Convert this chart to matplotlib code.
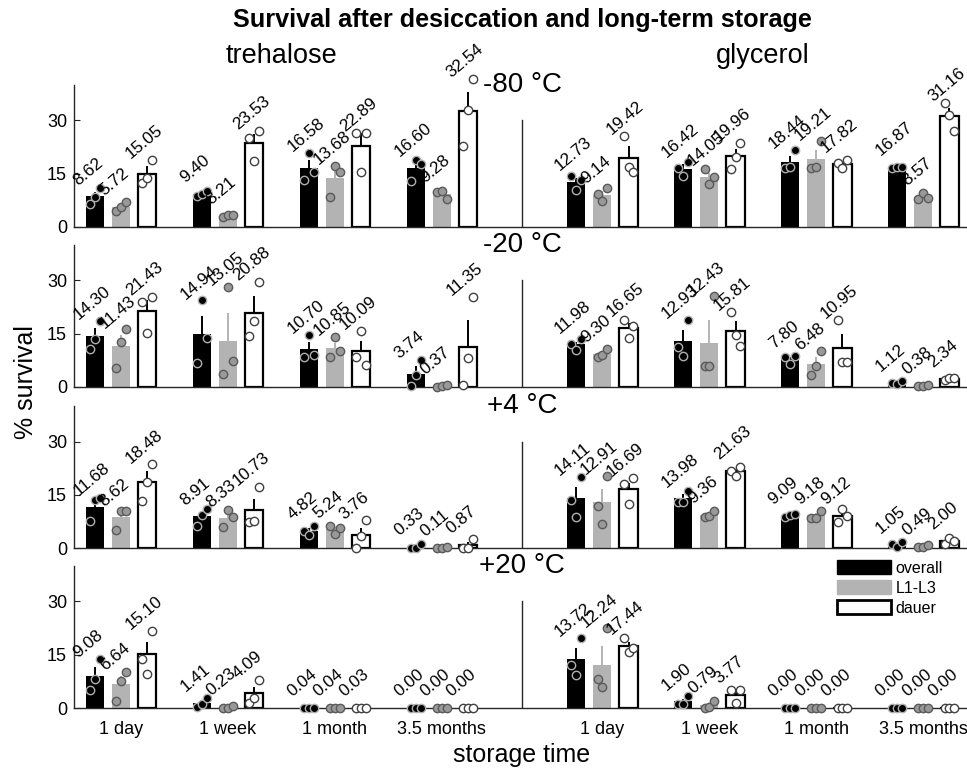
import numpy as np
import matplotlib
matplotlib.use('Agg')
import matplotlib.pyplot as plt
from matplotlib.patches import Patch

plt.rcParams['font.family'] = ['Liberation Sans', 'DejaVu Sans']

# categories
times = ['1 day', '1 week', '1 month', '3.5 months']
stages = ['overall', 'L1-L3', 'dauer']
temps = ['-80 °C', '-20 °C', '+4 °C', '+20 °C']

# rows: trehalose 1d,1w,1m,3.5m then glycerol 1d,1w,1m,3.5m ; cols: overall, L1-L3, dauer
means_m80 = [[8.62, 5.72, 15.05], [9.40, 3.21, 23.53], [16.58, 13.68, 22.89], [16.60, 9.28, 32.54],
             [12.73, 9.14, 19.42], [16.42, 14.05, 19.96], [18.44, 19.21, 17.82], [16.87, 8.57, 31.16]]
err_m80 = [[1.3, 0.7, 2.0], [0.4, 0.3, 2.6], [2.2, 2.7, 3.6], [1.9, 0.7, 5.4],
           [1.2, 1.1, 3.3], [1.2, 1.2, 2.1], [1.6, 2.5, 0.6], [0.1, 0.5, 2.4]]
pts_m80 = [[[6.5, 8.4, 11.0], [4.6, 5.6, 7.0], [12.5, 13.7, 19.0]],
           [[8.7, 9.3, 10.2], [2.7, 3.4, 3.5], [25.0, 18.5, 27.1]],
           [[13.3, 20.8, 15.6], [8.4, 17.2, 15.4], [26.5, 15.6, 26.6]],
           [[13.0, 19.0, 17.8], [9.8, 10.2, 7.9], [22.9, 33.0, 41.8]],
           [[14.5, 10.5, 13.2], [9.2, 7.2, 11.0], [25.6, 17.0, 15.6]],
           [[16.5, 14.4, 18.4], [16.2, 12.0, 14.0], [16.4, 19.8, 23.7]],
           [[16.7, 16.8, 21.8], [16.5, 17.0, 24.1], [17.9, 16.7, 18.9]],
           [[16.7, 16.9, 17.0], [8.0, 9.6, 8.1], [35.0, 31.6, 26.9]]]

means_m20 = [[14.30, 11.43, 21.43], [14.94, 13.05, 20.88], [10.70, 10.85, 10.09], [3.74, 0.37, 11.35],
             [11.98, 9.30, 16.65], [12.93, 12.43, 15.81], [7.80, 6.48, 10.95], [1.12, 0.38, 2.34]]
err_m20 = [[2.3, 3.2, 3.1], [5.0, 7.7, 4.6], [2.1, 1.6, 2.9], [2.2, 0.15, 7.4],
           [0.8, 0.7, 1.5], [3.1, 6.5, 2.8], [0.7, 1.9, 4.0], [0.25, 0.15, 0.2]]
pts_m20 = [[[10.6, 13.6, 18.7], [5.3, 12.8, 16.2], [23.8, 15.2, 25.3]],
           [[6.7, 24.4, 13.7], [3.7, 28.1, 7.35], [14.4, 18.7, 29.5]],
           [[8.5, 14.7, 8.9], [8.5, 14.0, 10.0], [8.3, 15.9, 6.1]],
           [[0.2, 3.3, 7.7], [0.1, 0.4, 0.6], [0.5, 8.2, 25.35]],
           [[12.0, 10.5, 13.4], [8.3, 8.9, 10.7], [19.0, 13.9, 17.05]],
           [[11.3, 8.7, 18.8], [6.0, 5.8, 25.5], [21.2, 14.6, 11.6]],
           [[8.4, 6.4, 8.6], [3.5, 5.9, 10.0], [18.9, 7.0, 6.95]],
           [[1.1, 0.7, 1.55], [0.3, 0.2, 0.65], [2.0, 2.4, 2.6]]]

means_p4 = [[11.68, 8.62, 18.48], [8.91, 8.33, 10.73], [4.82, 5.24, 3.76], [0.33, 0.11, 0.87],
            [14.11, 12.91, 16.69], [13.98, 9.36, 21.63], [9.09, 9.18, 9.12], [1.05, 0.49, 2.00]]
err_p4 = [[2.2, 1.7, 3.3], [1.4, 1.4, 3.1], [0.7, 0.7, 1.9], [0.33, 0.1, 0.87],
          [3.2, 3.7, 1.5], [1.1, 0.5, 0.7], [0.3, 0.7, 1.1], [0.4, 0.19, 0.5]]
pts_p4 = [[[7.5, 13.5, 14.05], [5.2, 10.3, 10.35], [13.3, 18.6, 23.55]],
          [[6.3, 9.4, 11.05], [5.8, 10.6, 8.6], [7.3, 7.6, 17.3]],
          [[4.7, 3.6, 6.15], [6.3, 3.9, 5.5], [0.0, 3.5, 7.8]],
          [[0.0, 0.0, 1.0], [0.0, 0.0, 0.33], [0.0, 0.0, 2.6]],
          [[13.6, 8.7, 20.0], [11.7, 6.7, 20.3], [18.0, 12.4, 19.7]],
          [[12.9, 12.9, 16.15], [8.8, 8.9, 10.4], [21.7, 20.4, 22.8]],
          [[8.6, 9.2, 9.5], [8.5, 8.5, 10.55], [7.2, 11.1, 9.05]],
          [[1.0, 0.4, 1.75], [0.3, 0.3, 0.87], [1.2, 2.9, 1.9]]]

means_p20 = [[9.08, 6.64, 15.10], [1.41, 0.23, 4.09], [0.04, 0.04, 0.03], [0.00, 0.00, 0.00],
             [13.72, 12.24, 17.44], [1.90, 0.79, 3.77], [0.00, 0.00, 0.00], [0.00, 0.00, 0.00]]
err_p20 = [[2.4, 2.4, 3.6], [0.7, 0.23, 1.8], [0.02, 0.02, 0.02], [0, 0, 0],
           [3.2, 5.1, 1.1], [0.75, 0.6, 1.2], [0, 0, 0], [0, 0, 0]]
pts_p20 = [[[5.2, 8.3, 13.75], [2.0, 7.7, 10.2], [13.8, 9.7, 21.8]],
           [[0.4, 1.1, 2.7], [0.0, 0.0, 0.7], [1.5, 2.8, 8.0]],
           [[0.0, 0.05, 0.07], [0.0, 0.05, 0.07], [0.0, 0.04, 0.05]],
           [[0, 0, 0], [0, 0, 0], [0, 0, 0]],
           [[12.0, 9.3, 19.85], [8.3, 6.0, 22.4], [19.6, 15.9, 16.8]],
           [[1.1, 1.2, 3.4], [0.0, 0.4, 2.0], [5.0, 1.3, 5.0]],
           [[0, 0, 0], [0, 0, 0], [0, 0, 0]],
           [[0, 0, 0], [0, 0, 0], [0, 0, 0]]]

panels = [(means_m80, err_m80, pts_m80), (means_m20, err_m20, pts_m20),
          (means_p4, err_p4, pts_p4), (means_p20, err_p20, pts_p20)]

# styles
group_x = [1, 2, 3, 4, 5.5, 6.5, 7.5, 8.5]
divider = 4.75
bar_w = 0.17
bar_off = 0.245
pt_off = np.array([-0.045, 0.0, 0.045])
bar_face = ['black', '#b3b3b3', 'white']
bar_edge = ['black', '#b3b3b3', 'black']
err_col = ['black', '#b3b3b3', 'black']
pt_face = ['black', '#999999', 'white']
pt_edge = ['#b0b0b0', '#5a5a5a', '#404040']
axcol = '#262626'

fig = plt.figure(figsize=(9.67, 7.71), dpi=100)
bottoms = [0.7056, 0.4981, 0.2892, 0.0817]

for i, (means, errs, pts) in enumerate(panels):
    ax = fig.add_axes([0.0765, bottoms[i], 0.9225, 0.1842])
    for g, gx in enumerate(group_x):
        for s in range(3):
            x = gx + (s - 1) * bar_off
            m = means[g][s]
            p = np.array(pts[g][s])
            ax.bar(x, m, width=bar_w, color=bar_face[s], edgecolor=bar_edge[s],
                   linewidth=1.6 if s == 2 else 0, zorder=2)
            if errs[g][s] > 0:
                ax.errorbar(x, m, yerr=[[0], [errs[g][s]]], fmt='none', ecolor=err_col[s],
                            elinewidth=1.4, capsize=0, zorder=3)
            ax.plot(x + pt_off, p, 'o', ms=6, mfc=pt_face[s], mec=pt_edge[s], mew=1,
                    zorder=4, clip_on=False)
            ty = max(p.max() + 1.2, m + 4)
            ax.text(x - 0.18, ty, f'{m:.2f}', rotation=40, rotation_mode='anchor',
                    ha='left', va='center', fontsize=12.3, zorder=5)

    ax.plot([divider, divider], [0, 30], color=axcol, lw=1)
    ax.text(divider, 40, temps[i], ha='center', va='center', fontsize=20)

    ax.set_xlim(0.56, 8.9)
    ax.set_ylim(0, 40)
    ax.set_yticks([0, 15, 30])
    ax.spines['top'].set_visible(False)
    ax.spines['right'].set_visible(False)
    for sp in ['left', 'bottom']:
        ax.spines[sp].set_color(axcol)
        ax.spines[sp].set_linewidth(1)
    ax.tick_params(axis='y', direction='in', length=4, labelsize=13, pad=5, colors=axcol,
                   labelcolor='black')
    ax.set_xticks(group_x)
    if i == 3:
        ax.set_xticklabels(times + times)
    else:
        ax.set_xticklabels([])
    ax.tick_params(axis='x', length=0, labelsize=13, pad=9)

fig.text(522 / 967, 1 - 27 / 771, 'Survival after desiccation and long-term storage',
         ha='center', va='baseline', fontsize=18.2, fontweight='bold')
fig.text(281 / 967, 1 - 63 / 771, 'trehalose', ha='center', va='baseline', fontsize=19.5)
fig.text(763 / 967, 1 - 63 / 771, 'glycerol', ha='center', va='baseline', fontsize=19.5)
fig.text(0.027, 0.505, '% survival', rotation=90, ha='center', va='center', fontsize=18)
fig.text(522 / 967, 1 - 755 / 771, 'storage time', ha='center', va='center', fontsize=18)

handles = [Patch(facecolor='black', edgecolor='black'),
           Patch(facecolor='#b3b3b3', edgecolor='#b3b3b3'),
           Patch(facecolor='white', edgecolor='black', linewidth=2)]
fig.legend(handles, stages, loc='upper left', bbox_to_anchor=(837 / 967, 1 - 560 / 771),
           frameon=False, fontsize=11.5, handlelength=3.4, handleheight=1.0,
           labelspacing=0.28, handletextpad=0.25, borderpad=0, borderaxespad=0)

fig.savefig('out.png', dpi=100)
